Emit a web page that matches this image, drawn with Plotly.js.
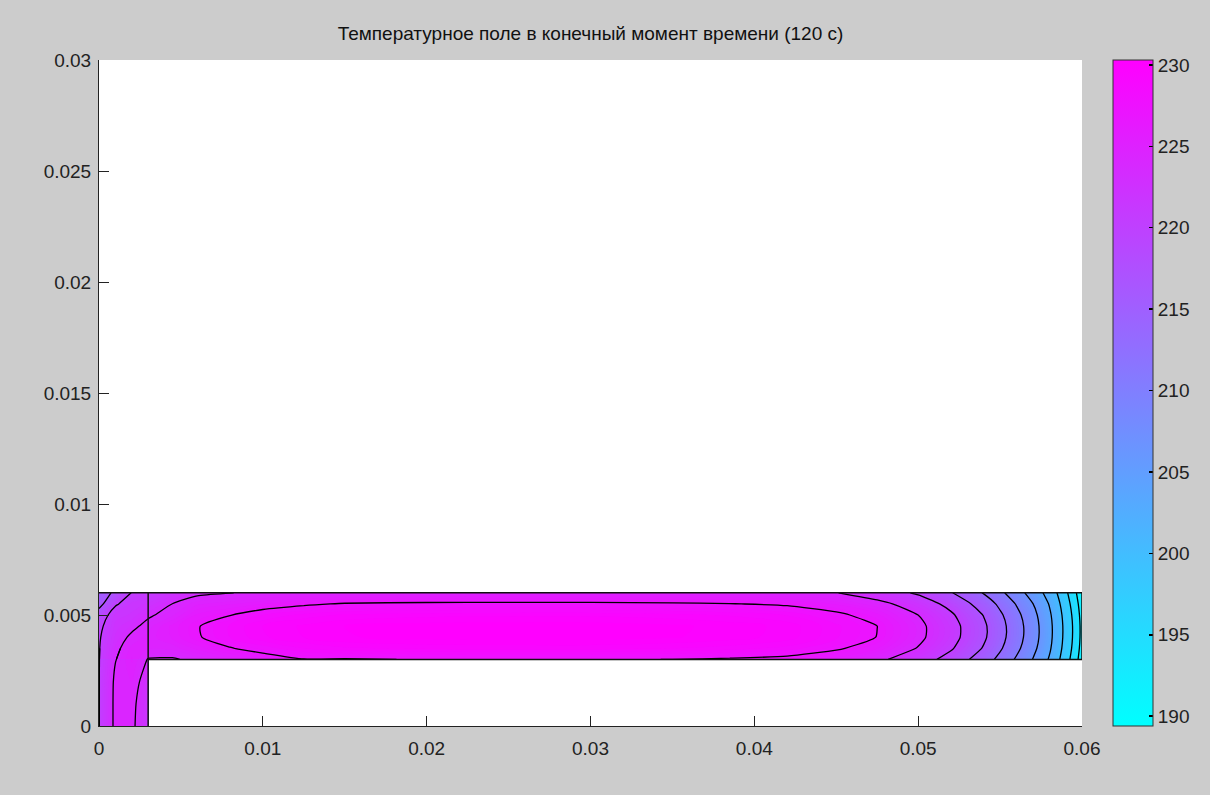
<!DOCTYPE html>
<html>
<head>
<meta charset="utf-8">
<script src="https://cdn.plot.ly/plotly-3.0.1.min.js"></script>
<style>
html, body { margin: 0; padding: 0; background: #cccccc; }
#chart { width: 1210px; height: 795px; }
</style>
</head>
<body>
<div id="chart"></div>
<script>
// ---------------- data ----------------
const titleText = 'Температурное поле в конечный момент времени (120 с)';

// horizontal plate (strip) nodes
const xStrip = [0, 0.001, 0.002, 0.003, 0.0045, 0.006, 0.008, 0.010, 0.0125, 0.015, 0.02, 0.025, 0.03, 0.035,
                0.0385, 0.042, 0.045, 0.0475, 0.050, 0.052, 0.054, 0.055, 0.056, 0.057, 0.058, 0.0585, 0.059, 0.0595, 0.06];
const yStrip = [0.003, 0.0035, 0.004, 0.0045, 0.005, 0.0055, 0.006];
// temperature (deg), one row per yStrip value
const tStrip0030 = [220.0, 223.4, 225.0, 223.4, 223.3, 224.0, 225.0, 226.0, 226.85, 226.79, 226.98, 227.03, 227.03, 226.89,
                    226.70, 226.36, 225.61, 224.15, 221.73, 218.87, 214.95, 212.36, 209.46, 206.37, 202.78, 200.39, 197.74, 194.82, 190.96];
const tStrip0035 = [219.95, 223.0, 224.6, 224.5, 224.6, 225.6, 226.8, 227.6, 228.4, 228.81, 229.03, 229.08, 229.08, 228.91,
                    228.65, 228.21, 227.17, 225.94, 223.35, 220.43, 216.43, 213.70, 210.68, 207.39, 203.55, 201.09, 198.34, 195.44, 191.55];
const tStrip0040 = [219.8, 222.5, 223.9, 224.6, 225.5, 226.75, 227.9, 228.8, 229.4, 229.85, 230.10, 230.15, 230.15, 229.95,
                    229.65, 229.16, 227.98, 226.87, 224.18, 221.23, 217.19, 214.40, 211.31, 207.92, 203.94, 201.45, 198.65, 195.75, 191.86];
const tStrip0045 = [219.4, 222.1, 223.0, 224.1, 225.6, 226.8, 228.0, 228.9, 229.5, 229.91, 230.16, 230.21, 230.21, 230.01,
                    229.71, 229.22, 228.03, 226.92, 224.23, 221.28, 217.23, 214.44, 211.34, 207.95, 203.96, 201.47, 198.67, 195.77, 191.88];
const tStrip0050 = [218.2, 221.6, 222.0, 223.2, 224.3, 226.0, 226.85, 227.9, 228.6, 228.98, 229.22, 229.27, 229.27, 229.08,
                    228.82, 228.37, 227.31, 226.10, 223.49, 220.57, 216.56, 213.82, 210.79, 207.49, 203.62, 201.15, 198.40, 195.49, 191.60];
const tStrip0055 = [215.6, 219.7, 221.6, 222.0, 223.55, 224.8, 225.3, 225.9, 226.6, 227.08, 227.28, 227.33, 227.33, 227.18,
                    226.98, 226.63, 225.84, 224.41, 221.97, 219.10, 215.17, 212.55, 209.64, 206.52, 202.89, 200.49, 197.82, 194.91, 191.05];
const tStrip0060 = [215.0, 217.3, 220.2, 220.7, 222.0, 223.0, 223.45, 223.9, 224.1, 224.2, 224.35, 224.4, 224.4, 224.3,
                    224.2, 224.0, 223.6, 221.85, 219.67, 216.88, 213.06, 210.63, 207.9, 205.06, 201.8, 199.5, 196.96, 194.04, 190.2];

// vertical leg nodes
const xLeg = [0, 0.001, 0.002, 0.003];
const yLeg = [0, 0.001, 0.002, 0.003, 0.0035];
const tLeg0000 = [220.0, 224.1, 224.0, 221.5];
const tLeg0010 = [220.0, 224.1, 224.1, 221.8];
const tLeg0020 = [220.0, 224.0, 224.4, 222.5];
const tLeg0030 = [220.0, 223.4, 225.0, 223.4];
const tLeg0035 = [219.95, 223.0, 224.6, 224.5];

// domain outline (plate + leg + subdomain border)
const edgeX = [0, 0.06, 0.06, 0.003, 0.003, null, 0.003, 0.003];
const edgeY = [0.006, 0.006, 0.003, 0.003, 0, null, 0.003, 0.006];

// colour range and contour levels
const tMin = 189.4;
const tMax = 230.3;
const levelStart = 192.81;
const levelEnd = 226.92;
const levelStep = 3.41;
const cbTicks = [190, 195, 200, 205, 210, 215, 220, 225, 230];

const xTickVals = [0, 0.01, 0.02, 0.03, 0.04, 0.05, 0.06];
const xTickText = ['0', '0.01', '0.02', '0.03', '0.04', '0.05', '0.06'];
const yTickVals = [0, 0.005, 0.01, 0.015, 0.02, 0.025, 0.03];
const yTickText = ['0', '0.005', '0.01', '0.015', '0.02', '0.025', '0.03'];

// ---------------- styling ----------------
const FONT = "'Liberation Sans', Arial, sans-serif";
const cool = [[0, 'rgb(0,255,255)'], [1, 'rgb(255,0,255)']];

const zStrip = [tStrip0030, tStrip0035, tStrip0040, tStrip0045, tStrip0050, tStrip0055, tStrip0060];
const zLeg = [tLeg0000, tLeg0010, tLeg0020, tLeg0030, tLeg0035];

function fillTrace(x, y, z) {
  return {
    type: 'contour', x: x, y: y, z: z,
    colorscale: cool, showscale: false, autocontour: false,
    contours: { start: tMin, end: tMax, size: 0.5, coloring: 'fill', showlines: false },
    line: { width: 0 },
    hoverinfo: 'skip'
  };
}
function lineTrace(x, y, z) {
  return {
    type: 'contour', x: x, y: y, z: z,
    showscale: false, autocontour: false,
    contours: { start: levelStart, end: levelEnd, size: levelStep, coloring: 'none', showlines: true },
    line: { color: '#000000', width: 1.3, smoothing: 0.6 },
    hoverinfo: 'skip'
  };
}

const traces = [
  fillTrace(xLeg, yLeg, zLeg),
  fillTrace(xStrip, yStrip, zStrip),
  lineTrace(xLeg, yLeg, zLeg),
  lineTrace(xStrip, yStrip, zStrip),
  {
    type: 'scatter', mode: 'lines', x: edgeX, y: edgeY,
    line: { color: '#111111', width: 1.5 }, cliponaxis: false,
    hoverinfo: 'skip', showlegend: false
  },
  {
    type: 'scatter', mode: 'markers', x: [null, null], y: [null, null],
    marker: {
      color: [tMin, tMax], cmin: tMin, cmax: tMax, colorscale: cool, showscale: true,
      colorbar: {
        thickness: 40, thicknessmode: 'pixels', len: 1, lenmode: 'fraction',
        x: 1.0315, xanchor: 'left', xpad: 0, y: 0.5, yanchor: 'middle', ypad: 0,
        outlinewidth: 1, outlinecolor: '#333333',
        tickmode: 'array', tickvals: cbTicks, ticktext: cbTicks.map(String),
        ticks: 'inside', ticklen: 4, tickwidth: 1.5, tickcolor: '#000000',
        tickfont: { family: FONT, size: 19, color: '#222222' }
      }
    },
    hoverinfo: 'skip', showlegend: false
  }
];

const axisCommon = {
  ticks: 'inside', ticklen: 10, tickwidth: 1, tickcolor: '#222222',
  showline: true, linecolor: '#222222', linewidth: 1,
  showgrid: false, zeroline: false, fixedrange: true,
  tickfont: { family: FONT, size: 19, color: '#222222' },
  tickmode: 'array'
};

const layout = {
  width: 1210, height: 795,
  paper_bgcolor: '#cccccc', plot_bgcolor: '#ffffff',
  margin: { l: 99, r: 128, t: 60, b: 69, autoexpand: false },
  showlegend: false,
  title: {
    text: titleText, x: 0.5, xref: 'paper', xanchor: 'center',
    y: 1 - 33 / 795, yref: 'container', yanchor: 'middle',
    font: { family: FONT, size: 19, color: '#111111' }
  },
  xaxis: Object.assign({}, axisCommon, { range: [0, 0.06], tickvals: xTickVals, ticktext: xTickText, ticklabelstandoff: 5 }),
  yaxis: Object.assign({}, axisCommon, { range: [0, 0.03], tickvals: yTickVals, ticktext: yTickText, ticklabelstandoff: 3 })
};

Plotly.newPlot('chart', traces, layout, { displayModeBar: false, staticPlot: true });
</script>
</body>
</html>
